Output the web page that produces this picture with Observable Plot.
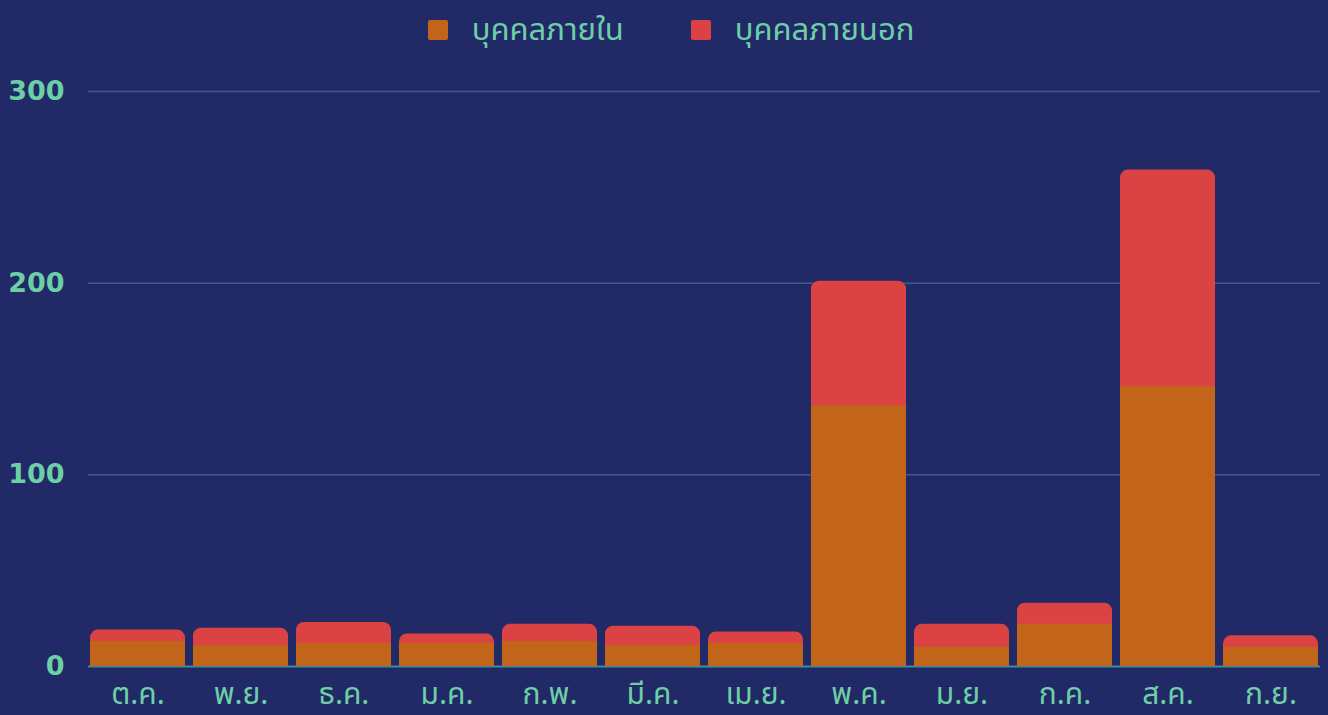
<!DOCTYPE html>
<html>
<head>
<meta charset="utf-8">
<script src="https://cdn.jsdelivr.net/npm/d3@7"></script>
<script src="https://cdn.jsdelivr.net/npm/@observablehq/plot@0.6"></script>
<style>
  html, body { margin: 0; padding: 0; background: #212a66; }
  body { width: 1328px; height: 715px; overflow: hidden; font-family: "Noto Sans Thai", "Noto Sans", sans-serif; }
  #legend { height: 60px; display: flex; justify-content: center; align-items: center; gap: 67px; color: #6dcfa6; font-size: 31px; padding-left: 14px; box-sizing: border-box; }
  .item { display: flex; align-items: center; }
  .sw { width: 20px; height: 20px; border-radius: 2px; margin-right: 24px; }
  #chart svg { display: block; }
</style>
</head>
<body>
<div id="legend"></div>
<div id="chart"></div>
<script>
const months = ["ต.ค.", "พ.ย.", "ธ.ค.", "ม.ค.", "ก.พ.", "มี.ค.", "เม.ย.", "พ.ค.", "ม.ย.", "ก.ค.", "ส.ค.", "ก.ย."];
const insiders = [13, 11, 12, 12, 13, 11, 12, 136, 10, 22, 146, 10];
const outsiders = [6, 9, 11, 5, 9, 10, 6, 65, 12, 11, 113, 6];
const seriesNames = ["บุคคลภายใน", "บุคคลภายนอก"];
const seriesColors = ["#c26419", "#db4244"];
const yTicks = [0, 100, 200, 300];

const rows = months.map((m, i) => ({month: m, inside: insiders[i], total: insiders[i] + outsiders[i]}));

const legend = document.getElementById("legend");
seriesNames.forEach((name, i) => {
  const it = document.createElement("div");
  it.className = "item";
  it.innerHTML = `<span class="sw" style="background:${seriesColors[i]}"></span><span>${name}</span>`;
  legend.appendChild(it);
});

const chart = Plot.plot({
  width: 1328,
  height: 655,
  marginTop: 31,
  marginBottom: 49,
  marginLeft: 88,
  marginRight: 8,
  style: {background: "#212a66", color: "#6dcfa6", overflow: "visible"},
  x: {domain: months, paddingInner: 0.08, paddingOuter: 0, label: null},
  y: {domain: [0, 300], ticks: yTicks, label: null},
  marks: [
    Plot.gridY(yTicks.filter(d => d > 0), {stroke: "#3f5b8e", strokeOpacity: 1, strokeWidth: 1.5}),
    Plot.ruleY([0], {stroke: "#3c8b96", strokeWidth: 2}),
    Plot.barY(rows, {x: "month", y1: 0, y2: "total", fill: seriesColors[1], rx: 8}),
    Plot.barY(rows, {x: "month", y1: 0, y2: "inside", fill: seriesColors[0]}),
    Plot.axisY({ticks: yTicks, tickSize: 0, tickPadding: 24, fontSize: 27, fontWeight: 900, fontFamily: "DejaVu Sans", fill: "#6dcfa6", stroke: "#6dcfa6", strokeWidth: 1.2, label: null}),
    Plot.axisX({tickSize: 0, tickPadding: 16, fontSize: 30, fontFamily: "Noto Sans Thai, Noto Sans, sans-serif", fill: "#6dcfa6", label: null})
  ]
});
document.getElementById("chart").appendChild(chart);
</script>
</body>
</html>
